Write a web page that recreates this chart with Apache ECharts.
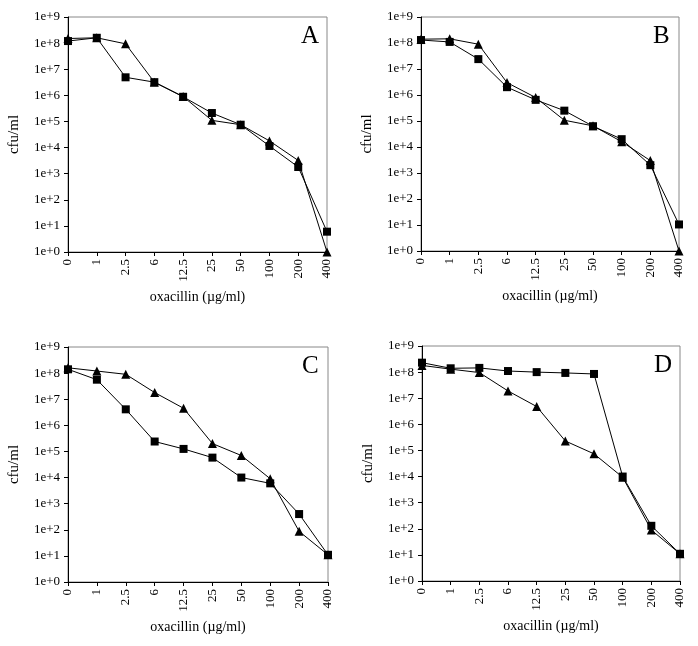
<!DOCTYPE html>
<html>
<head>
<meta charset="utf-8">
<script src="https://cdn.jsdelivr.net/npm/echarts@6/dist/echarts.min.js"></script>
<style>
html,body{margin:0;padding:0;background:#fff;}
#chart{width:698px;height:646px;}
</style>
</head>
<body>
<div id="chart"></div>
<script>
// Categories (oxacillin µg/ml)
const categories = ['0','1','2.5','6','12.5','25','50','100','200','400'];
// Panel letters
const panelLabels = ['A','B','C','D'];
// Triangle series (cfu/ml)
const triA = [1.5e8, 1.6e8, 9.4e7, 3.2e6, 9e5, 1.1e5, 7.5e4, 1.8e4, 3.2e3, 1];
const triB = [1.4e8, 1.45e8, 9e7, 3e6, 8e5, 1.07e5, 6.5e4, 1.6e4, 3e3, 1];
const triC = [1.6e8, 1.2e8, 9e7, 1.8e7, 4.5e6, 2e5, 7e4, 9e3, 87, 11];
const triD = [1.8e8, 1.3e8, 9.6e7, 1.9e7, 4.8e6, 2.3e5, 7.4e4, 9.4e3, 90, 11];
// Square series (cfu/ml)
const sqA = [1.2e8, 1.6e8, 4.9e6, 3.2e6, 8.8e5, 2.1e5, 7.5e4, 1.15e4, 1.8e3, 6];
const sqB = [1.3e8, 1.1e8, 2.4e7, 2e6, 6.5e5, 2.5e5, 6.3e4, 2e4, 2e3, 10.5];
const sqC = [1.4e8, 5.6e7, 4.1e6, 2.4e5, 1.25e5, 5.8e4, 1e4, 6e3, 400, 11];
const sqD = [2.3e8, 1.4e8, 1.45e8, 1.1e8, 1e8, 9.3e7, 8.5e7, 1e4, 130, 11];

const triSeries = [triA, triB, triC, triD];
const sqSeries = [sqA, sqB, sqC, sqD];

const FONT = 'Liberation Serif';
const grids = [
  {left: 68, top: 17, width: 259, height: 235},
  {left: 421, top: 17, width: 258, height: 234},
  {left: 68, top: 347, width: 260, height: 235},
  {left: 422, top: 346, width: 258, height: 235}
];

const option = {
  backgroundColor: '#fff',
  animation: false,
  grid: grids.map(g => Object.assign({show: true, borderColor: '#888', borderWidth: 1, backgroundColor: 'transparent'}, g)),
  xAxis: grids.map((g, i) => ({
    type: 'category',
    gridIndex: i,
    data: categories,
    boundaryGap: false,
    name: 'oxacillin (µg/ml)',
    nameLocation: 'middle',
    nameGap: 38,
    nameTextStyle: {fontFamily: FONT, fontSize: 14, color: '#000'},
    axisLine: {lineStyle: {color: '#000', width: 1}},
    axisTick: {show: true, inside: false, length: 4, lineStyle: {color: '#000'}},
    axisLabel: {rotate: 90, fontFamily: FONT, fontSize: 13, color: '#000', margin: 7, interval: 0},
    splitLine: {show: false}
  })),
  yAxis: grids.map((g, i) => ({
    type: 'log',
    logBase: 10,
    gridIndex: i,
    min: 1,
    max: 1e9,
    name: 'cfu/ml',
    nameLocation: 'middle',
    nameGap: 46,
    nameRotate: 90,
    nameTextStyle: {fontFamily: FONT, fontSize: 15, color: '#000'},
    axisLine: {show: true, lineStyle: {color: '#000', width: 1}},
    axisTick: {show: true, inside: false, length: 4, lineStyle: {color: '#000'}},
    axisLabel: {
      fontFamily: FONT, fontSize: 13, color: '#000', margin: 8,
      formatter: v => '1e+' + Math.round(Math.log10(v))
    },
    splitLine: {show: false},
    minorTick: {show: false}
  })),
  graphic: panelLabels.map((t, i) => ({
    type: 'text',
    left: grids[i].left + grids[i].width - 26,
    top: grids[i].top + 7,
    style: {text: t, font: '25px "Liberation Serif"', fill: '#000'}
  })),
  series: []
};

for (let i = 0; i < 4; i++) {
  option.series.push({
    type: 'line', xAxisIndex: i, yAxisIndex: i,
    data: triSeries[i],
    symbol: 'triangle', symbolSize: 9,
    clip: false,
    lineStyle: {color: '#000', width: 1},
    itemStyle: {color: '#000'}
  });
  option.series.push({
    type: 'line', xAxisIndex: i, yAxisIndex: i,
    data: sqSeries[i],
    symbol: 'rect', symbolSize: 8,
    clip: false,
    lineStyle: {color: '#000', width: 1},
    itemStyle: {color: '#000'}
  });
}

const chart = echarts.init(document.getElementById('chart'), null, {renderer: 'canvas'});
chart.setOption(option);
</script>
</body>
</html>
